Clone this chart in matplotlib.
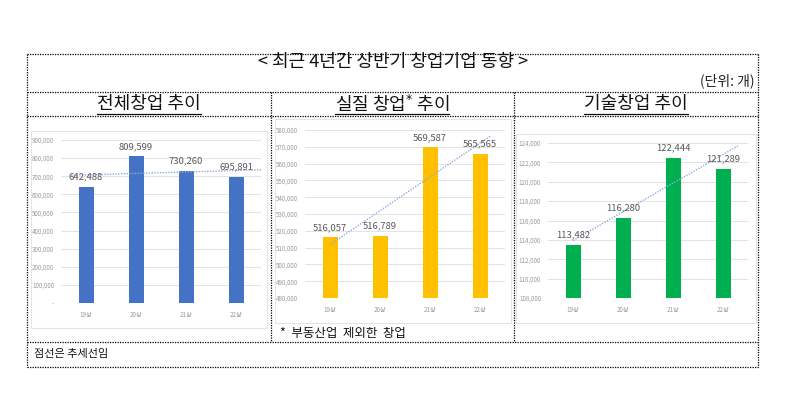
import numpy as np
import matplotlib
matplotlib.use("Agg")
import matplotlib.pyplot as plt
from matplotlib.lines import Line2D
from matplotlib.patches import Rectangle
from matplotlib.ticker import FuncFormatter

plt.rcParams['font.family'] = ['Noto Sans CJK KR', 'DejaVu Sans']

W, H = 789, 397

periods = ['19상', '20상', '21상', '22상']
total = [642488, 809599, 730260, 695891]
real = [516057, 516789, 569587, 565565]
tech = [113482, 116280, 122444, 121289]

titles = ['전체창업 추이', '실질 창업* 추이', '기술창업 추이']
colors = ['#4472c4', '#ffc000', '#00b050']
yranges = [(0, 900000, 100000), (480000, 580000, 10000), (108000, 124000, 2000)]


def fx(x):
    return x / W


def fy(y):
    return 1 - y / H


def px_axes(fig, left, top, right, bottom):
    return fig.add_axes([fx(left), fy(bottom), (right - left) / W, (bottom - top) / H])


def hline(fig, x0, x1, y, **kw):
    fig.add_artist(Line2D([fx(x0), fx(x1)], [fy(y), fy(y)], transform=fig.transFigure, **kw))


def vline(fig, x, y0, y1, **kw):
    fig.add_artist(Line2D([fx(x), fx(x)], [fy(y0), fy(y1)], transform=fig.transFigure, **kw))


fig = plt.figure(figsize=(W / 100, H / 100), dpi=100)
fig.patch.set_facecolor('white')

# table frame (dotted)
dot = dict(color='black', lw=0.9, ls=(0, (1, 1)))
hline(fig, 27, 758, 54, **dot)
hline(fig, 27, 758, 92, **dot)
hline(fig, 27, 758, 116, **dot)
hline(fig, 27, 758, 342, **dot)
hline(fig, 27, 758, 367, **dot)
vline(fig, 27, 54, 367, **dot)
vline(fig, 758, 54, 367, **dot)
vline(fig, 271, 92, 342, **dot)
vline(fig, 514, 92, 342, **dot)

fig.text(fx(393), fy(62), '< 최근 4년간 상반기 창업기업 동향 >', ha='center', va='center',
         fontsize=13, fontweight='medium', color='#111111')
fig.text(fx(755), fy(81), '(단위: 개)', ha='right', va='center', fontsize=10, color='#222222')

# chart area boxes (light)
for (l, t, r, b) in [(31, 131, 267, 328), (275, 119, 511, 323), (516, 134, 756, 323)]:
    fig.add_artist(Rectangle((fx(l), fy(b)), (r - l) / W, (b - t) / H, transform=fig.transFigure,
                             fill=False, edgecolor='#e4e4e4', lw=0.8))

# sub headers with underline
renderer = fig.canvas.get_renderer()
for cx, title in zip([149, 392, 636], titles):
    if '*' in title:
        txt = fig.text(fx(cx), fy(104), '실질 창업$^{*}$ 추이', ha='center', va='center', fontsize=13,
                       color='#111111')
    else:
        txt = fig.text(fx(cx), fy(104), title, ha='center', va='center', fontsize=13, color='#111111')
    bb = txt.get_window_extent(renderer=renderer)
    fig.add_artist(Line2D([bb.x0 / W, bb.x1 / W], [fy(113.5), fy(113.5)], transform=fig.transFigure,
                          color='#111111', lw=0.9))

fig.text(fx(280), fy(333), '*  부동산업  제외한  창업', ha='left', va='center', fontsize=9, color='#111111')
fig.text(fx(34), fy(354), '점선은 추세선임', ha='left', va='center', fontsize=8, color='#111111')

boxes = [(61, 140, 261, 303), (305, 130, 505, 298), (548, 143, 748, 298)]
trend_span = [(-0.3, 3.5), (0, 3.2), (0, 3.3)]
series = [total, real, tech]

for i, vals in enumerate(series):
    l, t, r, b = boxes[i]
    ax = px_axes(fig, l, t, r, b)
    x = np.arange(len(periods))
    ax.bar(x, vals, width=0.3, color=colors[i], zorder=3)
    lo, hi, step = yranges[i]
    ax.set_ylim(lo, hi)
    ax.set_xlim(-0.5, len(periods) - 0.5)
    ax.set_yticks(np.arange(lo, hi + step / 2, step))
    if lo == 0:
        ax.yaxis.set_major_formatter(FuncFormatter(lambda v, p: '-' if v == 0 else f'{int(v):,}'))
    else:
        ax.yaxis.set_major_formatter(FuncFormatter(lambda v, p: f'{int(v):,}'))
    ax.set_xticks(x)
    ax.set_xticklabels(periods)
    ax.tick_params(axis='y', length=0, labelsize=4.5, labelcolor='#9a9a9a', pad=5)
    ax.tick_params(axis='x', length=0, labelsize=4.5, labelcolor='#9a9a9a', pad=6)
    ax.grid(axis='y', color='#dedede', lw=0.6, zorder=0)
    for s in ax.spines.values():
        s.set_visible(False)
    ax.patch.set_alpha(0)
    # linear trend line (like excel)
    k, c = np.polyfit(x, vals, 1)
    xs = np.array(trend_span[i])
    ax.plot(xs, k * xs + c, ls=(0, (1, 1)), color='#8faadc', lw=1.0, zorder=4)
    for xi, v in zip(x, vals):
        ax.annotate(f'{v:,}', (xi, v), xytext=(0, 4), textcoords='offset points', ha='center',
                    va='bottom', fontsize=6.8, color='#595959', zorder=5)

fig.savefig('out.png', dpi=100)
